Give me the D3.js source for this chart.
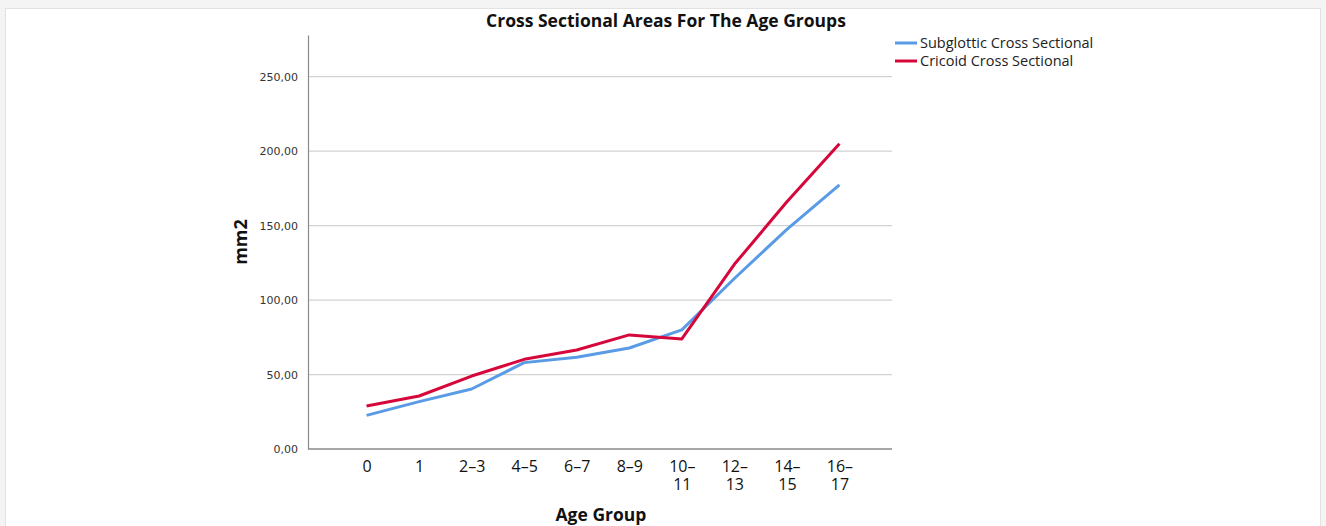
<!DOCTYPE html>
<html>
<head>
<meta charset="utf-8">
<script src="https://cdn.jsdelivr.net/npm/d3@7"></script>
<style>
    body { margin: 0; background: #fff; }
    text { font-family: "Open Sans", "DejaVu Sans", sans-serif; }
</style>
</head>
<body>
<svg id="chart" width="1326" height="526"></svg>
<script>
// age groups on the x axis (second line of label after the dash)
var ageGroups = ["0", "1", "2-3", "4-5", "6-7", "8-9", "10-11", "12-13", "14-15", "16-17"];
var subglottic = [22.6, 31.8, 40.3, 58.0, 61.6, 67.8, 80.0, 114.5, 147.5, 177.4];
var cricoid = [28.9, 35.6, 49.0, 60.2, 66.5, 76.6, 73.9, 124.0, 166.0, 205.0];
var yTicks = [0, 50, 100, 150, 200, 250];
var seriesNames = ["Subglottic Cross Sectional", "Cricoid Cross Sectional"];
var seriesColors = ["#5a9be6", "#d6083b"];

function drawChart() {
    var svg = d3.select('#chart');

    // frame around the picture
    svg.append('rect').attr('x', 0).attr('y', 0).attr('width', 1326).attr('height', 526).attr('fill', '#f4f4f4');
    svg.append('rect').attr('x', 5.5).attr('y', 8.5).attr('width', 1315).attr('height', 520)
        .attr('fill', '#fff').attr('stroke', '#e2e2e2');

    var pLeft = 308, pRight = 892, pTop = 35, pBottom = 449;

    var x = d3.scalePoint()
        .domain(ageGroups)
        .range([pLeft + 6, pRight])
        .padding(1);

    var y = d3.scaleLinear()
        .domain([0, 278])
        .range([pBottom, pTop]);

    // gridlines
    svg.append('g').selectAll('line')
        .data(yTicks.slice(1))
        .enter().append('line')
        .attr('x1', pLeft).attr('x2', pRight)
        .attr('y1', function (d) { return y(d); })
        .attr('y2', function (d) { return y(d); })
        .attr('stroke', '#d2d2d2')
        .attr('stroke-width', 1.2);

    // y axis
    var yAxis = d3.axisLeft(y).tickValues(yTicks).tickSize(0).tickPadding(10)
        .tickFormat(function (d) { return d3.format('.2f')(d).replace('.', ','); });
    var gy = svg.append('g').attr('transform', 'translate(' + pLeft + ',0)').call(yAxis);
    gy.select('.domain').attr('stroke', '#8a8a8a').attr('stroke-width', 1.2);
    gy.selectAll('text').attr('fill', '#333')
        .style('font-family', '"DejaVu Sans", sans-serif').style('font-size', '11px');

    // x axis
    var xAxis = d3.axisBottom(x).tickSize(0).tickPadding(12).tickFormat('');
    var gx = svg.append('g').attr('transform', 'translate(0,' + pBottom + ')').call(xAxis);
    gx.select('.domain').attr('d', 'M' + pLeft + ',0H' + pRight).attr('stroke', '#8a8a8a').attr('stroke-width', 1.5);
    gx.selectAll('.tick').each(function (d) {
        var parts = d.split('-');
        var lines;
        if (parts.length == 1) lines = [parts[0]];
        else if (+parts[0] < 10) lines = [parts[0] + '\u2013' + parts[1]];
        else lines = [parts[0] + '\u2013', parts[1]];
        var tick = d3.select(this);
        lines.forEach(function (l, k) {
            tick.append('text')
                .attr('x', 0).attr('y', 23 + k * 18)
                .attr('text-anchor', 'middle')
                .attr('fill', '#111')
                .style('font-size', '16px')
                .text(l);
        });
    });

    // lines
    var line = d3.line()
        .x(function (d, i) { return x(ageGroups[i]); })
        .y(function (d) { return y(d); });

    [subglottic, cricoid].forEach(function (s, i) {
        svg.append('path')
            .datum(s)
            .attr('d', line)
            .attr('fill', 'none')
            .attr('stroke', seriesColors[i])
            .attr('stroke-width', 3)
            .attr('stroke-linejoin', 'round');
    });

    // title and axis titles
    svg.append('text')
        .attr('x', 666).attr('y', 27)
        .attr('text-anchor', 'middle')
        .style('font-size', '17.5px').style('font-weight', 'bold')
        .attr('fill', '#111')
        .text('Cross Sectional Areas For The Age Groups');

    svg.append('text')
        .attr('x', 601).attr('y', 521)
        .attr('text-anchor', 'middle')
        .style('font-size', '17.5px').style('font-weight', 'bold')
        .attr('fill', '#111')
        .text('Age Group');

    svg.append('text')
        .attr('transform', 'translate(247,' + ((pTop + pBottom) / 2) + ') rotate(-90)')
        .attr('text-anchor', 'middle')
        .style('font-size', '18px').style('font-weight', 'bold')
        .attr('fill', '#111')
        .text('mm2');

    // legend
    var lg = svg.append('g').attr('transform', 'translate(895,43)');
    seriesNames.forEach(function (n, i) {
        lg.append('line')
            .attr('x1', 0).attr('x2', 22)
            .attr('y1', i * 18).attr('y2', i * 18)
            .attr('stroke', seriesColors[i]).attr('stroke-width', 3);
        lg.append('text')
            .attr('x', 25).attr('y', i * 18 + 5)
            .style('font-size', '14.5px')
            .attr('fill', '#222')
            .text(n);
    });
}

drawChart();
</script>
</body>
</html>
